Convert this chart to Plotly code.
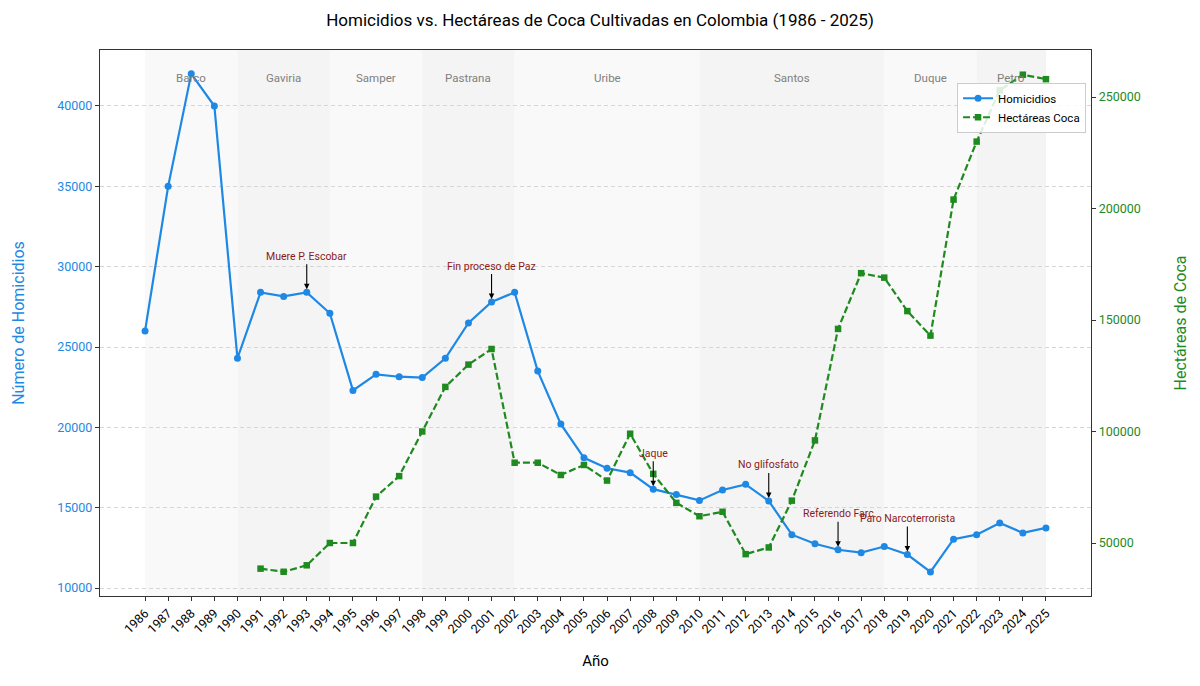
import plotly.graph_objects as go

years = list(range(1986, 2026))
homicidios = [26000, 35000, 42000, 40000, 24300, 28400, 28150, 28400, 27100, 22300,
              23300, 23150, 23100, 24300, 26500, 27800, 28400, 23500, 20200, 18100,
              17450, 17180, 16150, 15820, 15450, 16100, 16450, 15420, 13320, 12750,
              12380, 12200, 12580, 12080, 11000, 13040, 13320, 14050, 13430, 13740]
coca_years = list(range(1991, 2026))
coca = [38500, 37100, 40000, 50000, 50000, 70800, 80000, 100000, 120000, 130000,
        137000, 86000, 86000, 80500, 85000, 78000, 99000, 81000, 68000, 62000,
        64000, 45000, 48000, 69000, 96000, 146000, 171000, 169000, 154000, 143000,
        204000, 230000, 253000, 260000, 258000]

presidents = ["Barco", "Gaviria", "Samper", "Pastrana", "Uribe", "Santos", "Duque", "Petro"]
pres_start = [1986, 1990, 1994, 1998, 2002, 2010, 2018, 2022]
pres_end = [1990, 1994, 1998, 2002, 2010, 2018, 2022, 2025]

events = ["Muere P. Escobar", "Fin proceso de Paz", "Jaque", "No glifosfato",
          "Referendo Farc", "Paro Narcoterrorista"]
event_years = [1993, 2001, 2008, 2013, 2016, 2019]

BLUE = "#1E88E5"
GREEN = "#1f8a1f"
FONT = "Roboto"

fig = go.Figure()
fig.add_trace(go.Scatter(x=years, y=homicidios, name="Homicidios", mode="lines+markers",
                         line=dict(color=BLUE, width=2.2), marker=dict(size=7, color=BLUE),
                         yaxis="y"))
fig.add_trace(go.Scatter(x=coca_years, y=coca, name="Hectáreas Coca", mode="lines+markers",
                         line=dict(color=GREEN, width=2.2, dash="7px,3px"),
                         marker=dict(size=6.5, color=GREEN, symbol="square"),
                         yaxis="y2"))

shapes = []
annotations = []
for i, (name, s, e) in enumerate(zip(presidents, pres_start, pres_end)):
    shapes.append(dict(type="rect", xref="x", yref="paper", x0=s, x1=e, y0=0, y1=1,
                       fillcolor="#f9f9f9" if i % 2 == 0 else "#f4f4f4",
                       line=dict(width=0), layer="below"))
    annotations.append(dict(x=(s + e) / 2, y=0.965, xref="x", yref="paper", text=name,
                            showarrow=False, font=dict(size=11.5, color="#808080", family=FONT)))

for txt, yr in zip(events, event_years):
    annotations.append(dict(x=yr, y=homicidios[years.index(yr)], xref="x", yref="y",
                            text=txt, showarrow=True, ax=0, ay=-36, arrowhead=2,
                            arrowsize=1, arrowwidth=1.1, arrowcolor="black", standoff=3,
                            font=dict(size=10.5, color="#8B1A1A", family=FONT)))

fig.update_layout(
    width=1200, height=686,
    margin=dict(l=100, r=109, t=50, b=90),
    paper_bgcolor="white", plot_bgcolor="white",
    font=dict(family=FONT, color="black"),
    title=dict(text="Homicidios vs. Hectáreas de Coca Cultivadas en Colombia (1986 - 2025)",
               x=0.5, xanchor="center", y=1 - 20 / 686, yanchor="middle",
               font=dict(size=17, color="black", family=FONT)),
    shapes=shapes, annotations=annotations,
    legend=dict(x=0.995, y=0.94, xanchor="right", yanchor="top",
                bgcolor="rgba(255,255,255,0.85)", bordercolor="#cccccc", borderwidth=1,
                font=dict(size=11.5, family=FONT), tracegroupgap=0),
    xaxis=dict(range=[1984.05, 2026.95], tickmode="array", tickvals=years,
               ticktext=[str(y) for y in years], tickangle=-45,
               tickfont=dict(size=12.5), ticks="outside", ticklen=4, tickcolor="#333",
               showgrid=False, zeroline=False, showline=True, linecolor="#333",
               linewidth=1.3, mirror=True,
               title=dict(text="Año", font=dict(size=15), standoff=20)),
    yaxis=dict(range=[9502, 43485], tickvals=[10000, 15000, 20000, 25000, 30000, 35000, 40000],
               tickformat="d",
               tickfont=dict(size=12.5, color=BLUE), ticks="outside", ticklen=4, tickcolor="#333",
               showgrid=True, gridcolor="#d6d6d6", griddash="4px,3px", gridwidth=0.8,
               zeroline=False, showline=True, linecolor="#333", linewidth=1.3, mirror=True,
               title=dict(text="Número de Homicidios", font=dict(size=16, color=BLUE), standoff=28)),
    yaxis2=dict(range=[26233, 271076], overlaying="y", side="right",
                tickvals=[50000, 100000, 150000, 200000, 250000], tickformat="d",
                tickfont=dict(size=12.5, color=GREEN), ticks="outside", ticklen=4, tickcolor="#333",
                showgrid=False, zeroline=False, showline=True, linecolor="#333", linewidth=1.3,
                title=dict(text="Hectáreas de Coca", font=dict(size=16, color=GREEN), standoff=34)),
)

fig.write_html("out.html")
